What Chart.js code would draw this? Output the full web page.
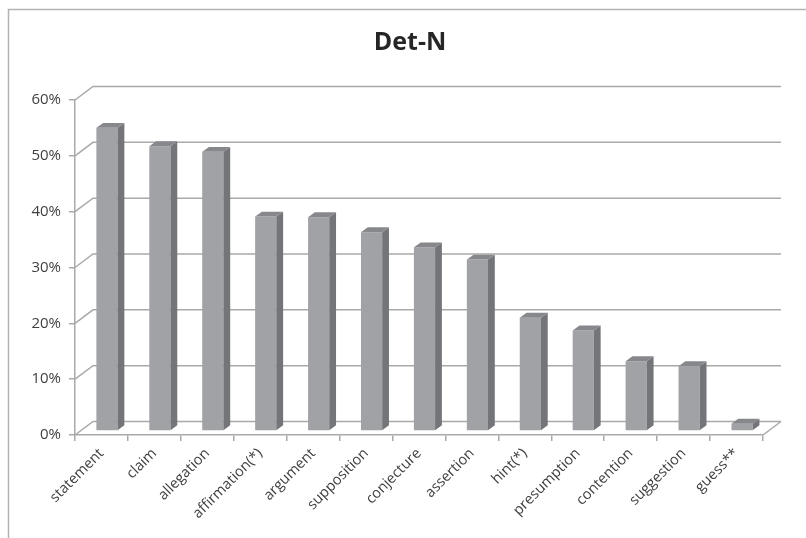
<!DOCTYPE html>
<html>
<head>
<meta charset="utf-8">
<script src="https://cdn.jsdelivr.net/npm/chart.js@4/dist/chart.umd.min.js"></script>
<style>
  body { margin: 0; background: white; }
  #wrap { width: 806px; height: 538px; }
</style>
</head>
<body>
<div id="wrap"><canvas id="detChart"></canvas></div>
<script>
const categories = ["statement", "claim", "allegation", "affirmation(*)", "argument", "supposition",
  "conjecture", "assertion", "hint(*)", "presumption", "contention", "suggestion", "guess**"];
const percentValues = [54.3, 51.0, 50.0, 38.4, 38.3, 35.6, 32.9, 30.7, 20.3, 18.0, 12.5, 11.6, 1.3];
const yTicks = [0, 10, 20, 30, 40, 50, 60];

const LINE_COLOR = "#a9a9a9";
const TEXT_COLOR = "#404040";
const BACK_DX = 18;   // back wall offset
const BACK_DY = -13.5;
const BAR_DX = 5.5;   // bars stand a bit into the floor
const BAR_DY = -4;
const DEPTH_DX = 6.8; // bar depth
const DEPTH_DY = -4.9;

Chart.defaults.font.family = "'Open Sans', sans-serif";

const frame3d = {
  id: "frame3d",
  beforeDraw(chart) {
    const ctx = chart.ctx;
    ctx.save();
    ctx.strokeStyle = "#b3b3b3";
    ctx.lineWidth = 1.5;
    ctx.strokeRect(8.5, 9.5, 900, 700);
    ctx.restore();
  },
  beforeDatasetsDraw(chart) {
    const ctx = chart.ctx;
    const area = chart.chartArea;
    const y = chart.scales.y;
    const right = area.right + BACK_DX;

    ctx.save();
    ctx.strokeStyle = LINE_COLOR;
    ctx.lineWidth = 1.5;
    for (let i = 0; i < yTicks.length; i++) {
      let py = y.getPixelForValue(yTicks[i]);
      ctx.beginPath();
      ctx.moveTo(area.left, py);
      ctx.lineTo(area.left + BACK_DX, py + BACK_DY);
      ctx.lineTo(right, py + BACK_DY);
      ctx.stroke();
    }
    // floor right edge
    ctx.beginPath();
    ctx.moveTo(area.right, area.bottom);
    ctx.lineTo(right, area.bottom + BACK_DY);
    ctx.stroke();
    ctx.restore();

    ctx.save();
    ctx.translate(BAR_DX, BAR_DY);
  },
  afterDatasetsDraw(chart) {
    const ctx = chart.ctx;
    const meta = chart.getDatasetMeta(0);
    meta.data.forEach(function (bar) {
      let left = bar.x - bar.width / 2;
      let rightX = bar.x + bar.width / 2;
      // side
      ctx.fillStyle = "#747579";
      ctx.beginPath();
      ctx.moveTo(rightX, bar.y);
      ctx.lineTo(rightX + DEPTH_DX, bar.y + DEPTH_DY);
      ctx.lineTo(rightX + DEPTH_DX, bar.base + DEPTH_DY);
      ctx.lineTo(rightX, bar.base);
      ctx.closePath();
      ctx.fill();
      // top
      ctx.fillStyle = "#87888c";
      ctx.beginPath();
      ctx.moveTo(left, bar.y);
      ctx.lineTo(left + DEPTH_DX, bar.y + DEPTH_DY);
      ctx.lineTo(rightX + DEPTH_DX, bar.y + DEPTH_DY);
      ctx.lineTo(rightX, bar.y);
      ctx.closePath();
      ctx.fill();
    });
    ctx.restore();
  }
};

new Chart(document.getElementById("detChart"), {
  type: "bar",
  data: {
    labels: categories,
    datasets: [
      {
        data: percentValues,
        backgroundColor: "#a1a2a6",
        borderWidth: 0,
        categoryPercentage: 1,
        barPercentage: 0.4,
        clip: false,
      },
    ],
  },
  options: {
    responsive: true,
    maintainAspectRatio: false,
    animation: false,
    events: [],
    layout: {
      padding: { left: 14, right: 0, top: 0, bottom: 0 },
    },
    plugins: {
      legend: { display: false },
      tooltip: { enabled: false },
      title: {
        display: true,
        text: "Det-N",
        color: "#262626",
        font: { size: 25, weight: "bold", family: "'Open Sans', sans-serif" },
        padding: { top: 28, bottom: 42 },
      },
    },
    scales: {
      x: {
        afterFit: function (scale) { scale.height = 103; },
        border: { display: true, color: LINE_COLOR, width: 1.5 },
        grid: {
          offset: true,
          drawOnChartArea: false,
          drawTicks: true,
          tickLength: 6,
          color: LINE_COLOR,
          lineWidth: 1.5,
        },
        ticks: {
          minRotation: 45,
          maxRotation: 45,
          autoSkip: false,
          padding: 4,
          color: TEXT_COLOR,
          font: { size: 14.5 },
        },
      },
      y: {
        min: 0,
        max: 60,
        afterFit: function (scale) { scale.width = 61; },
        border: { display: true, color: LINE_COLOR, width: 1.5 },
        grid: {
          drawOnChartArea: false,
          drawTicks: true,
          tickLength: 6,
          color: LINE_COLOR,
          lineWidth: 1.5,
        },
        ticks: {
          stepSize: 10,
          padding: 8,
          color: TEXT_COLOR,
          font: { size: 15 },
          callback: function (value) { return value + "%"; },
        },
      },
      yRight: {
        position: "right",
        display: true,
        afterFit: function (scale) { scale.width = 43; },
        grid: { display: false },
        border: { display: false },
        ticks: { display: false },
      },
    },
  },
  plugins: [frame3d],
});
</script>
</body>
</html>
